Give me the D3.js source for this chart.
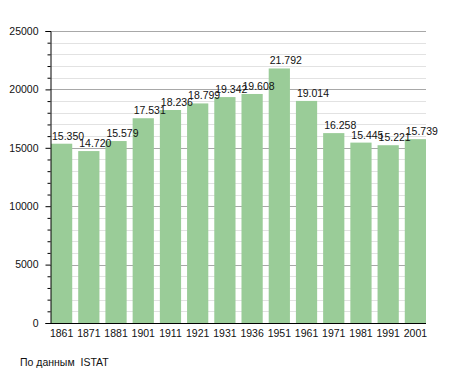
<!DOCTYPE html>
<html>
<head>
<meta charset="utf-8">
<script src="https://cdn.jsdelivr.net/npm/d3@7"></script>
<style>
  body { margin: 0; background: #fff; }
  text { font-family: "Liberation Sans", Arial, sans-serif; }
</style>
</head>
<body>
<div class="graphContainer"></div>
<script>
// Data
const years = ['1861', '1871', '1881', '1901', '1911', '1921', '1931', '1936', '1951', '1961', '1971', '1981', '1991', '2001'];
const population = [15350, 14720, 15579, 17531, 18236, 18799, 19342, 19608, 21792, 19014, 16258, 15445, 15221, 15739];
const yTicks = [0, 5000, 10000, 15000, 20000, 25000];
const sourceNote = 'По данным  ISTAT';

// Dimensions
const W = 455, H = 373;
const margin = { top: 31, right: 29, bottom: 50, left: 50 };
const plotRight = W - margin.right;
const plotBottom = H - margin.bottom;
const fontSize = 10.5;

const svg = d3.select('.graphContainer')
    .append('svg')
    .attr('width', W)
    .attr('height', H);

// Scales
const x = d3.scaleBand()
    .domain(years)
    .range([margin.left + 1, plotRight])
    .paddingInner(0.22)
    .paddingOuter(0);

const y = d3.scaleLinear()
    .domain([0, 25000])
    .range([plotBottom, margin.top]);

// Grid lines (minor every 1000, major every 5000)
const minor = d3.range(1000, 25001, 1000).filter(v => v % 5000 !== 0);
svg.append('g')
    .selectAll('line')
    .data(minor)
    .enter()
    .append('line')
    .attr('x1', margin.left)
    .attr('x2', plotRight)
    .attr('y1', d => Math.round(y(d)) + 0.5)
    .attr('y2', d => Math.round(y(d)) + 0.5)
    .attr('stroke', '#e2e2e2');

svg.append('g')
    .selectAll('line')
    .data(yTicks.filter(v => v > 0))
    .enter()
    .append('line')
    .attr('x1', margin.left)
    .attr('x2', plotRight)
    .attr('y1', d => Math.round(y(d)) + 0.5)
    .attr('y2', d => Math.round(y(d)) + 0.5)
    .attr('stroke', '#a8a8a8');

// Bars
svg.append('g')
    .selectAll('rect')
    .data(population)
    .enter()
    .append('rect')
    .attr('x', (d, i) => x(years[i]))
    .attr('y', d => y(d))
    .attr('width', x.bandwidth())
    .attr('height', d => plotBottom - y(d))
    .attr('fill', '#9acc98');

// Value labels (they overlap in places, as in the original)
const fmt = d => d3.format(',')(d).replace(',', '.');
svg.append('g')
    .selectAll('text')
    .data(population)
    .enter()
    .append('text')
    .attr('x', (d, i) => x(years[i]) + 1)
    .attr('y', d => y(d) - 4)
    .attr('font-size', fontSize)
    .attr('fill', '#111')
    .text(fmt);

// Y axis
const yAxis = svg.append('g')
    .attr('transform', `translate(${margin.left + 0.5},0)`)
    .call(d3.axisLeft(y).tickValues(yTicks).tickSize(5).tickPadding(7).tickFormat(d3.format('d')));
yAxis.select('.domain').attr('stroke', '#000');
yAxis.selectAll('text').attr('font-size', fontSize).attr('fill', '#111').attr('font-family', '"Liberation Sans", Arial, sans-serif');

svg.append('g')
    .attr('transform', `translate(${margin.left + 0.5},0)`)
    .call(d3.axisLeft(y).tickValues(minor).tickSize(3).tickFormat(''))
    .call(g => g.select('.domain').remove());

// X axis
const xAxis = svg.append('g')
    .attr('transform', `translate(0,${plotBottom + 0.5})`)
    .call(d3.axisBottom(x).tickSize(0).tickPadding(6));
xAxis.select('.domain').attr('stroke', '#000').attr('d', `M${margin.left},0H${plotRight}`);
xAxis.selectAll('text').attr('font-size', fontSize).attr('fill', '#111').attr('font-family', '"Liberation Sans", Arial, sans-serif');

// Source note
svg.append('text')
    .attr('x', 20)
    .attr('y', 366)
    .attr('font-size', fontSize)
    .attr('fill', '#111')
    .style('white-space', 'pre')
    .text(sourceNote);
</script>
</body>
</html>
